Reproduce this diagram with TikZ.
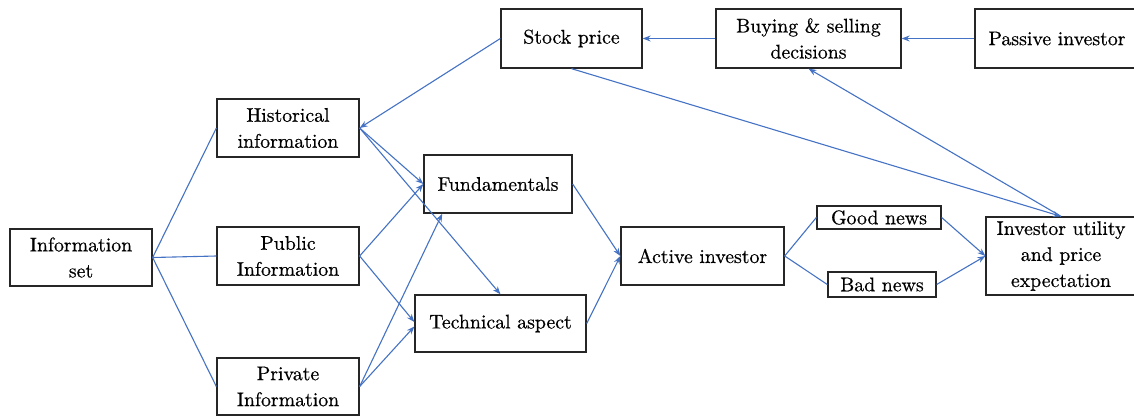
\documentclass[tikz,border=0pt]{standalone}
\usepackage{fontspec}
\setmainfont{lmroman10-regular.otf}[FakeBold=0.5]
\usetikzlibrary{arrows.meta}
\definecolor{linkblue}{HTML}{4472C4}
\tikzset{
  box/.style={draw=black!85, line width=1.3pt, fill=white, inner sep=0pt, align=center,
    font=\rmfamily\fontsize{19.8}{26}\selectfont},
  link/.style={draw=linkblue, line width=1.1pt},
  arr/.style={link, -{Stealth[length=8pt,width=6pt]}}
}
\begin{document}
\begin{tikzpicture}[x=1pt,y=-1pt]
\useasboundingbox (0,0) rectangle (1134,418);
\node[box, minimum width=142pt, minimum height=57pt] (info) at (81,257.5) {Information\\set};
\node[box, minimum width=142pt, minimum height=58pt] (hist) at (288,128) {Historical\\information};
\node[box, minimum width=142pt, minimum height=58pt] (pub) at (288,256) {Public\\Information};
\node[box, minimum width=142pt, minimum height=57pt] (priv) at (288,386.5) {Private\\Information};
\node[box, minimum width=148pt, minimum height=58pt] (fund) at (498,184) {Fundamentals};
\node[box, minimum width=171pt, minimum height=57pt] (tech) at (500.5,323.5) {Technical aspect};
\node[box, minimum width=141pt, minimum height=59pt] (stock) at (571.5,38.5) {Stock price};
\node[box, minimum width=185pt, minimum height=59pt] (buy) at (808.5,38.5) {Buying \& selling\\decisions};
\node[box, minimum width=164pt, minimum height=59pt] (pass) at (1057,38.5) {Passive investor};
\node[box, minimum width=163pt, minimum height=58pt] (act) at (702.5,256) {Active investor};
\node[box, minimum width=124pt, minimum height=23pt] (good) at (879,217.5) {Good news};
\node[box, minimum width=108pt, minimum height=25pt] (bad) at (882,284.5) {Bad news};
\node[box, minimum width=150pt, minimum height=78pt] (iu) at (1061,256) {Investor utility\\and price\\expectation};

\draw[link] (info.east) -- (hist.west);
\draw[link] (info.east) -- (pub.west);
\draw[link] (info.east) -- (priv.west);
\draw[arr] (hist.east) -- (fund.west);
\draw[arr] (hist.east) -- (tech.north);
\draw[arr] (pub.east) -- (fund.west);
\draw[arr] (pub.east) -- (tech.179);
\draw[arr] (priv.east) -- (fund.208);
\draw[arr] (priv.east) -- (tech.182);
\draw[arr] (fund.east) -- (act.west);
\draw[arr] (tech.east) -- (act.west);
\draw[link] (act.east) -- (good.west);
\draw[link] (act.east) -- (bad.west);
\draw[arr] (good.east) -- (iu.west);
\draw[arr] (bad.east) -- (iu.west);
\draw[arr] (stock.south) -- (iu.north);
\draw[arr] (iu.north) -- (buy.south);
\draw[arr] (pass.west) -- (buy.east);
\draw[arr] (buy.west) -- (stock.east);
\draw[arr] (stock.west) -- (hist.east);
\end{tikzpicture}
\end{document}
